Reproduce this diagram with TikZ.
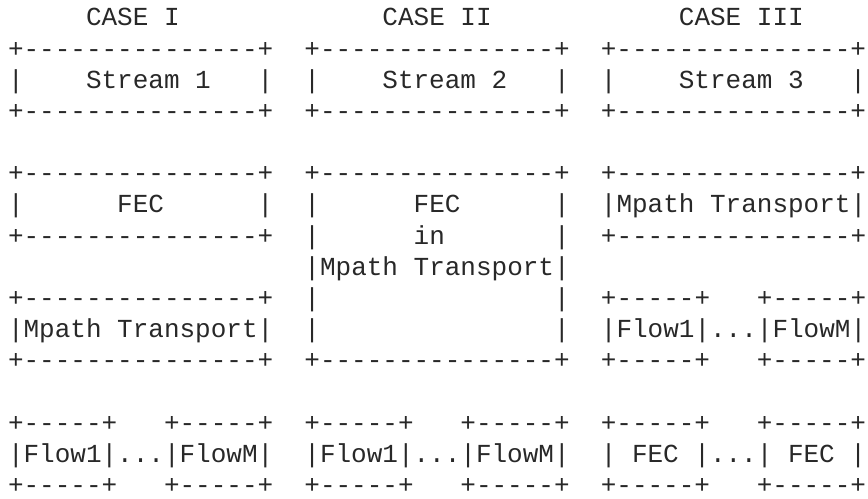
\documentclass[tikz,border=0pt]{standalone}
\usepackage{fontspec}
\setmonofont{Liberation Mono}
\usepackage{tikz}
\definecolor{inkgray}{RGB}{40,40,40}
\tikzset{asciirow/.style={anchor=base west,inner sep=0pt,text=inkgray,
  font=\ttfamily\fontsize{26pt}{31.2pt}\selectfont}}
\frenchspacing
\begin{document}
\begin{tikzpicture}[x=15.6pt,y=-31.17pt]
\useasboundingbox (0,0) rectangle (55.64,15.98);
% headings
\node[asciirow] (row0) at (0.5,0.83) {~~~~~CASE~I~~~~~~~~~~~~~CASE~II~~~~~~~~~~~~CASE~III};
% streams
\node[asciirow] (row1) at (0.5,1.83) {+---------------+~~+---------------+~~+---------------+};
\node[asciirow] (row2) at (0.5,2.83) {|~~~~Stream~1~~~|~~|~~~~Stream~2~~~|~~|~~~~Stream~3~~~|};
\node[asciirow] (row3) at (0.5,3.83) {+---------------+~~+---------------+~~+---------------+};
% fec / transport
\node[asciirow] (row5) at (0.5,5.83) {+---------------+~~+---------------+~~+---------------+};
\node[asciirow] (row6) at (0.5,6.83) {|~~~~~~FEC~~~~~~|~~|~~~~~~FEC~~~~~~|~~|Mpath~Transport|};
\node[asciirow] (row7) at (0.5,7.83) {+---------------+~~|~~~~~~in~~~~~~~|~~+---------------+};
\node[asciirow] (row8) at (0.5,8.83) {~~~~~~~~~~~~~~~~~~~|Mpath~Transport|};
\node[asciirow] (row9) at (0.5,9.83) {+---------------+~~|~~~~~~~~~~~~~~~|~~+-----+~~~+-----+};
\node[asciirow] (row10) at (0.5,10.83) {|Mpath~Transport|~~|~~~~~~~~~~~~~~~|~~|Flow1|...|FlowM|};
\node[asciirow] (row11) at (0.5,11.83) {+---------------+~~+---------------+~~+-----+~~~+-----+};
% flows
\node[asciirow] (row13) at (0.5,13.83) {+-----+~~~+-----+~~+-----+~~~+-----+~~+-----+~~~+-----+};
\node[asciirow] (row14) at (0.5,14.83) {|Flow1|...|FlowM|~~|Flow1|...|FlowM|~~|~FEC~|...|~FEC~|};
\node[asciirow] (row15) at (0.5,15.83) {+-----+~~~+-----+~~+-----+~~~+-----+~~+-----+~~~+-----+};
\end{tikzpicture}
\end{document}
